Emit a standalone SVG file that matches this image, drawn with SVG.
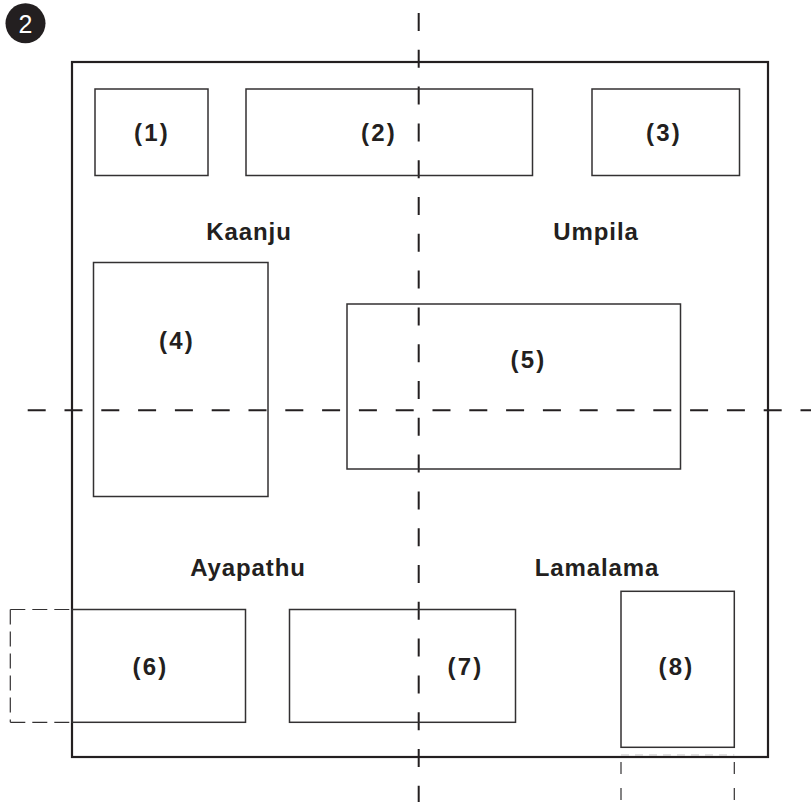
<svg xmlns="http://www.w3.org/2000/svg" width="811" height="802" viewBox="0 0 811 802">
  <style>
    .frame { fill: none; stroke: #231f20; stroke-width: 2.2; }
    .box { fill: none; stroke: #333132; stroke-width: 1.5; }
    .axis { fill: none; stroke: #231f20; stroke-width: 2; stroke-dasharray: 18 18.8; }
    .ext { fill: none; stroke: #333132; stroke-width: 1.2; stroke-dasharray: 15 7; }
    .ext8 { fill: none; stroke: #333132; stroke-width: 1.2; stroke-dasharray: 12 14; }
    .num { font-family: "Liberation Sans", Arial, sans-serif; font-weight: bold; font-size: 24px; fill: #231f20; text-anchor: middle; letter-spacing: 2.2px; }
    .name { font-family: "Liberation Sans", Arial, sans-serif; font-weight: bold; font-size: 24px; fill: #231f20; text-anchor: middle; letter-spacing: 0.9px; }
  </style>

  <!-- figure badge -->
  <g id="badge">
    <circle cx="25.5" cy="23.3" r="20" fill="#231f20"/>
    <text x="25.5" y="32.5" font-family="Liberation Sans, Arial, sans-serif" font-size="25" fill="#ffffff" text-anchor="middle">2</text>
  </g>

  <!-- outer boundary -->
  <rect id="frame" class="frame" x="72" y="62" width="696" height="695"/>

  <!-- dividing axes and extension lines -->
  <g id="connectors">
    <line class="axis" x1="418.7" y1="13" x2="418.7" y2="802"/>
    <line class="axis" x1="27.7" y1="410.3" x2="811" y2="410.3"/>
    <line class="ext" x1="10.3" y1="609.5" x2="72" y2="609.5"/>
    <line class="ext" x1="10.3" y1="722.3" x2="72" y2="722.3"/>
    <line class="ext" x1="10.3" y1="609.5" x2="10.3" y2="722.3"/>
    <line class="ext8" x1="621" y1="762" x2="621" y2="802"/>
    <line class="ext8" x1="734.3" y1="762" x2="734.3" y2="802"/>
    <line x1="621" y1="755" x2="734.3" y2="755" stroke="#b5b3b4" stroke-width="0.8" stroke-dasharray="8 6"/>
  </g>

  <g id="n1"><rect class="box" x="95" y="89" width="113" height="86.5"/><text class="num" x="152" y="140.5">(1)</text></g>
  <g id="n2"><rect class="box" x="246" y="89" width="286.5" height="86.5"/><text class="num" x="379" y="140.5">(2)</text></g>
  <g id="n3"><rect class="box" x="592" y="89" width="147.5" height="86.5"/><text class="num" x="664" y="140.5">(3)</text></g>
  <g id="n4"><rect class="box" x="93.5" y="262.5" width="174.5" height="234"/><text class="num" x="177" y="348.5">(4)</text></g>
  <g id="n5"><rect class="box" x="347" y="304" width="333.5" height="165"/><text class="num" x="528.5" y="367.5">(5)</text></g>
  <g id="n6"><rect class="box" x="72" y="609.5" width="173.5" height="112.8"/><text class="num" x="150.5" y="675">(6)</text></g>
  <g id="n7"><rect class="box" x="289.5" y="609.5" width="226" height="112.8"/><text class="num" x="465.5" y="675">(7)</text></g>
  <g id="n8"><rect class="box" x="621" y="591.3" width="113.3" height="156"/><text class="num" x="676.5" y="675">(8)</text></g>

  <!-- region names -->
  <g id="regions">
    <text class="name" x="249" y="240">Kaanju</text>
    <text class="name" x="596" y="240">Umpila</text>
    <text class="name" x="248" y="576">Ayapathu</text>
    <text class="name" x="597" y="576">Lamalama</text>
  </g>
</svg>
